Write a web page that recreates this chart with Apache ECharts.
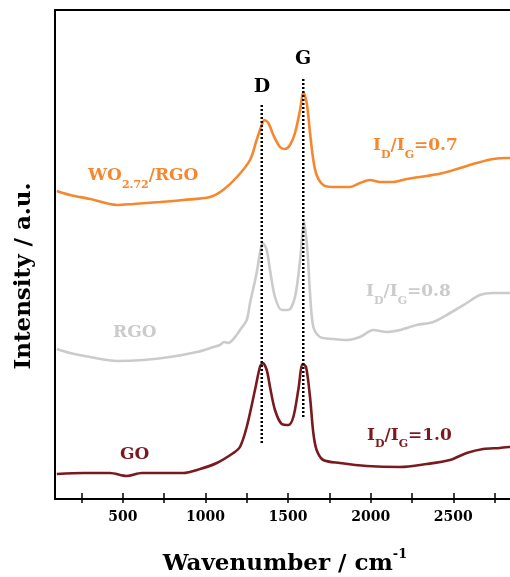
<!DOCTYPE html>
<html><head><meta charset="utf-8">
<script src="https://cdn.jsdelivr.net/npm/echarts@6/dist/echarts.min.js"></script>
<style>html,body{margin:0;padding:0;background:#fff}#c{width:510px;height:577px}</style>
</head><body><div id="c"></div>
<script>
// Wavenumber (cm^-1) and intensity (a.u., vertically offset) for each spectrum
const woX = [101,181,302,464,562,726,865,1028,1107,1191,1270,1310,1341,1356,1381,1411,1451,1481,1512,1542,1573,1592,1613,1633,1653,1673,1713,1774,1875,1935,1996,2056,2137,2218,2339,2439,2540,2641,2741,2822,2843];
const woY = [308,304,300,294,295,297,299,302,309,322,339,359,374,379,376,364,352,350,354,366,389,407,396,366,339,324,314,312,312,316,319,317,317,320,323,326,331,336,340,341,341];

const rgoX = [101,181,302,464,625,786,948,1048,1088,1113,1139,1189,1209,1250,1270,1310,1330,1347,1371,1391,1421,1462,1502,1542,1573,1597,1617,1633,1653,1693,1774,1855,1935,2016,2097,2177,2278,2379,2480,2581,2661,2741,2822,2843];
const rgoY = [150,146,142,138,139,142,147,152,154,157,156,164,169,179,196,226,246,256,249,229,202,189,189,202,239,277,249,206,172,162,160,159,162,169,167,169,174,177,186,196,204,206,206,206];

const goX = [101,262,423,524,615,726,866,968,1069,1169,1209,1250,1300,1330,1347,1371,1391,1421,1462,1502,1532,1562,1589,1609,1633,1653,1673,1713,1814,1976,2177,2339,2480,2581,2681,2782,2832,2843];
const goY = [25,26,26,23,26,26,26,30,36,46,52,72,109,132,136,129,112,89,75,74,82,109,135,132,102,66,49,39,36,33,32,35,39,46,50,51,52,52];

const peakD = [[1341,56],[1341,396]];
const peakG = [[1592,82],[1592,422]];

const xTicks = [250,500,750,1000,1250,1500,1750,2000,2250,2500,2750];
const xLabels = [500,1000,1500,2000,2500];

const FONT = 'DejaVu Serif';
const C_WO = '#f7872e', C_RGO = '#cbcbcb', C_GO = '#7b1a1e';
const pairs = (xs, ys) => xs.map((x, i) => [x, ys[i]]);

const measureCtx = document.createElement('canvas').getContext('2d');
const MAIN = 17, SUB = 11;
// parts: [text, isSubscript]; x = left edge, y = vertical centre of main text
function subText(x, y, parts, color) {
  const out = [];
  let cx = x;
  parts.forEach(([t, sub]) => {
    const size = sub ? SUB : MAIN;
    measureCtx.font = 'bold ' + size + 'px "' + FONT + '"';
    out.push({type: 'text', x: cx, y: sub ? y + 9 : y, z: 100,
      style: {text: t, fill: color, fontFamily: FONT, fontWeight: 'bold', fontSize: size, align: 'left', verticalAlign: 'middle'}});
    cx += measureCtx.measureText(t).width;
  });
  return out;
}
const ratio = (x, y, v, c) => subText(x, y, [['I', 0], ['D', 1], ['/I', 0], ['G', 1], ['=' + v, 0]], c);

const chart = echarts.init(document.getElementById('c'), null, {renderer: 'canvas'});

const option = {
  animation: false,
  grid: {left: 55, top: 10, right: 0, bottom: 78, containLabel: false},
  xAxis: [
    {type: 'value', min: 90, max: 2843, position: 'bottom',
     axisLine: {show: true, lineStyle: {color: '#000', width: 2}},
     axisTick: {show: true, inside: true, length: 6, customValues: xTicks, lineStyle: {color: '#000', width: 1.5}},
     axisLabel: {customValues: xLabels, formatter: v => String(v), color: '#000', fontFamily: FONT, fontWeight: 'bold', fontSize: 14, margin: 11},
     splitLine: {show: false}},
    {type: 'value', min: 90, max: 2843, position: 'bottom',
     axisLine: {show: false},
     axisTick: {show: true, inside: false, length: 4, customValues: xTicks, lineStyle: {color: '#000', width: 1.5}},
     axisLabel: {show: false}, splitLine: {show: false}},
    {type: 'value', min: 90, max: 2843, position: 'top',
     axisLine: {show: true, lineStyle: {color: '#000', width: 2}},
     axisTick: {show: false}, axisLabel: {show: false}, splitLine: {show: false}}
  ],
  yAxis: {type: 'value', min: 0, max: 489,
    axisLine: {show: true, lineStyle: {color: '#000', width: 2}},
    axisTick: {show: false}, axisLabel: {show: false}, splitLine: {show: false}},
  series: [
    {type: 'line', data: pairs(woX, woY), showSymbol: false, smooth: 0.3, lineStyle: {color: C_WO, width: 2.6}, z: 3},
    {type: 'line', data: pairs(rgoX, rgoY), showSymbol: false, smooth: 0.3, lineStyle: {color: C_RGO, width: 2.6}, z: 3},
    {type: 'line', data: pairs(goX, goY), showSymbol: false, smooth: 0.3, lineStyle: {color: C_GO, width: 2.6}, z: 3},
    {type: 'line', data: peakD, showSymbol: false, lineStyle: {color: '#000', width: 2.5, type: [2, 2]}, z: 5},
    {type: 'line', data: peakG, showSymbol: false, lineStyle: {color: '#000', width: 2.5, type: [2, 2]}, z: 5}
  ],
  graphic: [
    {type: 'text', x: 262, y: 87, z: 100, style: {text: 'D', fill: '#000', fontFamily: FONT, fontWeight: 'bold', fontSize: 19, align: 'center', verticalAlign: 'middle'}},
    {type: 'text', x: 303, y: 59, z: 100, style: {text: 'G', fill: '#000', fontFamily: FONT, fontWeight: 'bold', fontSize: 19, align: 'center', verticalAlign: 'middle'}},
    ...subText(88, 176, [['WO', 0], ['2.72', 1], ['/RGO', 0]], C_WO),
    ...ratio(373, 146, '0.7', C_WO),
    {type: 'text', x: 113, y: 333, z: 100, style: {text: 'RGO', fill: C_RGO, fontFamily: FONT, fontWeight: 'bold', fontSize: MAIN, align: 'left', verticalAlign: 'middle'}},
    ...ratio(366, 292, '0.8', C_RGO),
    {type: 'text', x: 120, y: 455, z: 100, style: {text: 'GO', fill: C_GO, fontFamily: FONT, fontWeight: 'bold', fontSize: MAIN, align: 'left', verticalAlign: 'middle'}},
    ...ratio(367, 435.5, '1.0', C_GO),
    {type: 'text', x: 24, y: 276, rotation: Math.PI / 2, z: 100, style: {text: 'Intensity / a.u.', fill: '#000', fontFamily: FONT, fontWeight: 'bold', fontSize: 23, align: 'center', verticalAlign: 'middle'}},
    {type: 'text', x: 285, y: 562, z: 100, style: {
      text: '{a|Wavenumber / cm}{s|-1}', align: 'center', verticalAlign: 'middle',
      rich: {
        a: {fill: '#000', fontFamily: FONT, fontWeight: 'bold', fontSize: 23, lineHeight: 28, verticalAlign: 'bottom'},
        s: {fill: '#000', fontFamily: FONT, fontWeight: 'bold', fontSize: 13, lineHeight: 14, verticalAlign: 'top'}
      }}}
  ]
};
chart.setOption(option);
</script>
</body></html>
